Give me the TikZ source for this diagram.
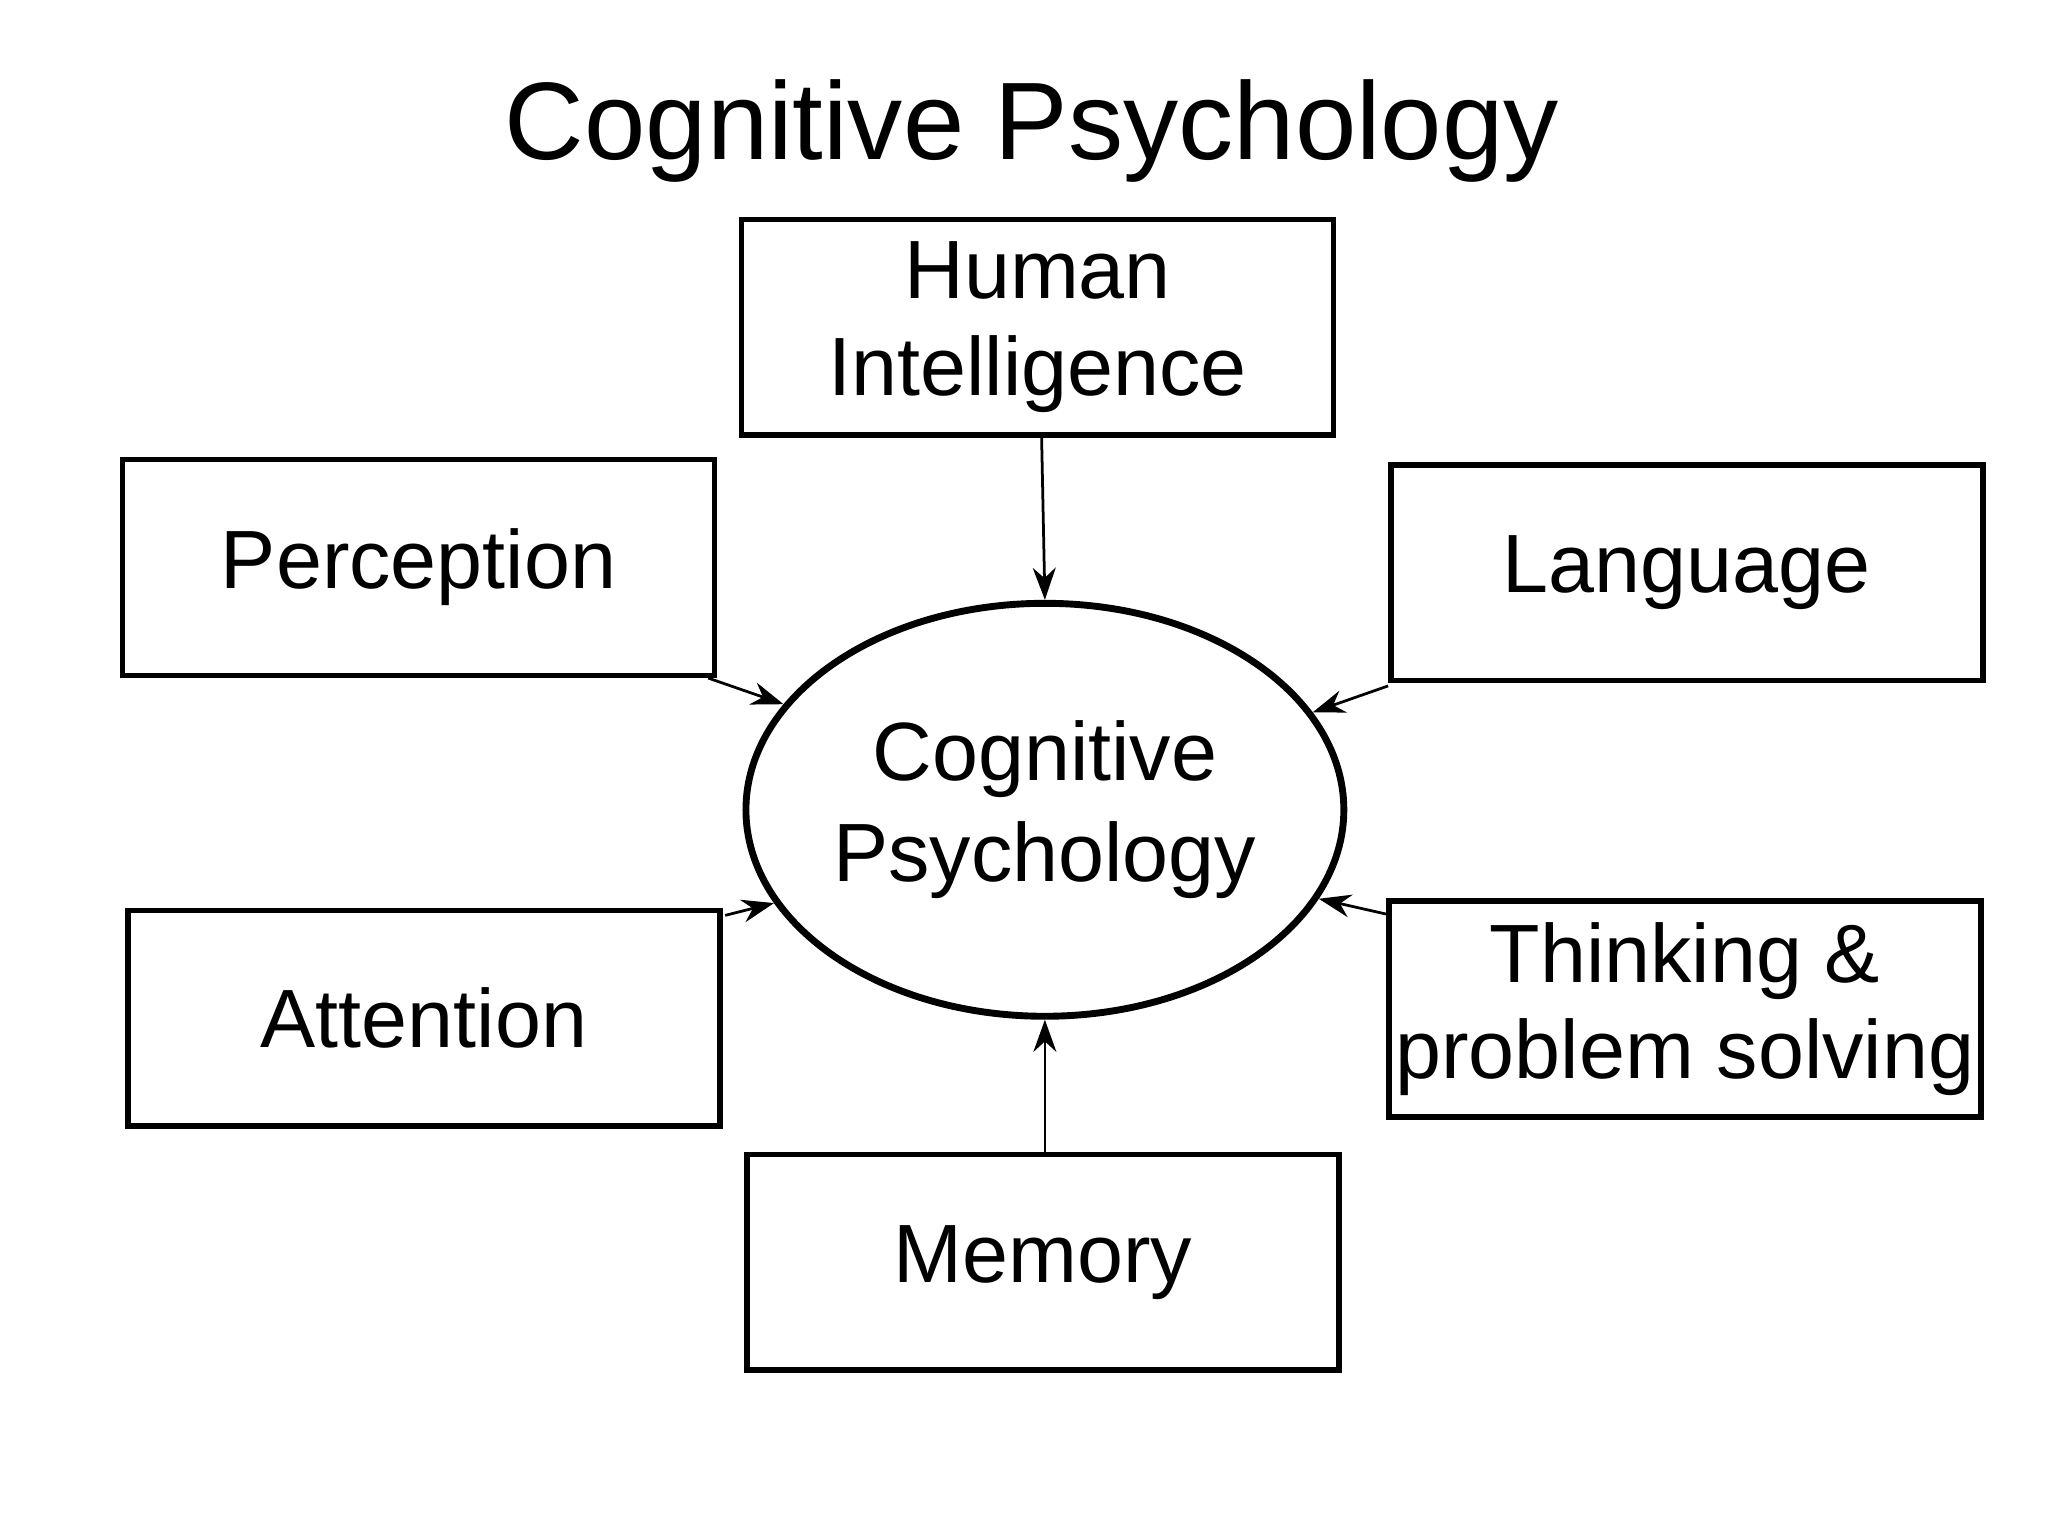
\documentclass[tikz,border=0pt]{standalone}
\usepackage{fontspec}
\setmainfont{Liberation Sans}
\usetikzlibrary{shapes.geometric,calc,arrows.meta}
\begin{document}
\begin{tikzpicture}[x=0.01cm,y=-0.01cm,
  box/.style={draw,line width=1.2pt,minimum width=4.53cm,minimum height=1.65cm,inner sep=0pt,align=center,font=\fontsize{18}{21}\selectfont},
  arr/.style={-{Stealth[length=7pt,width=5pt]},line width=0.6pt}]
\useasboundingbox (0,0) rectangle (1568,1176);
\node (title) at (790,100) {\fontsize{24}{28}\selectfont Cognitive Psychology};
\node[draw,ellipse,line width=1.5pt,minimum width=3.38cm,minimum height=3.16cm,align=center,inner sep=0pt,font=\fontsize{18}{22}\selectfont] (cp) at (800,620) {Cognitive\\Psychology};
\node[box] (hi) at (794.5,250.5) {Human\\Intelligence};
\node[box] (per) at (320.5,434.5) {Perception};
\node[box] (lan) at (1291.5,438.5) {Language};
\node[box] (att) at (324.5,779.5) {Attention};
\node[box] (thk) at (1290,772.5) {Thinking \&\\problem solving};
\node[box] (mem) at (798.5,966.5) {Memory};
\draw[arr] ($(hi.south)+(3,0)$) -- (cp.north);
\draw[arr] ($(per.south east)+(-7,0)$) -- (cp.158.5);
\draw[arr] ($(lan.south west)+(0,2)$) -- (cp.20);
\draw[arr] ($(att.north east)+(2,6)$) -- (cp.-161);
\draw[arr] ($(thk.north west)+(0,12)$) -- (cp.-18);
\draw[arr] ($(mem.north)+(1.5,0)$) -- (cp.south);
\end{tikzpicture}
\end{document}
